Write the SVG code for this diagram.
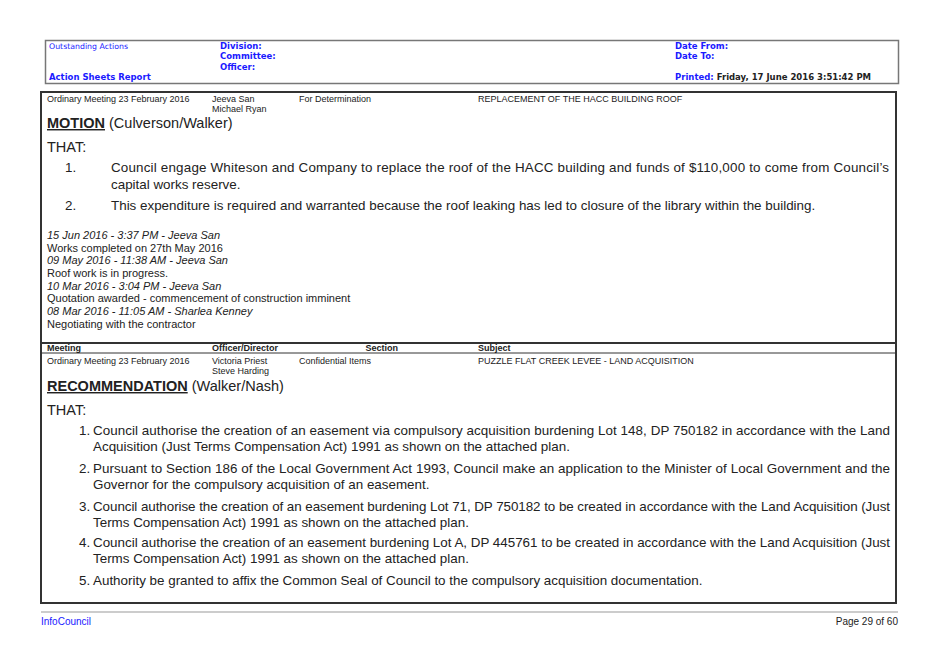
<svg xmlns="http://www.w3.org/2000/svg" width="939" height="664" viewBox="0 0 939 664">
<style>
.h{font-family:"DejaVu Sans",sans-serif;font-size:8.5px;fill:#1a1aff;font-weight:bold}
.s{font-family:"Liberation Sans",Arial,sans-serif;font-size:9px;fill:#222}
.b{font-family:"Liberation Sans",Arial,sans-serif;font-size:13.4px;fill:#222}
.t{font-family:"Liberation Sans",Arial,sans-serif;font-size:14.5px;fill:#222}
.i{font-family:"Liberation Sans",Arial,sans-serif;font-size:11px;fill:#222}
</style>
<rect width="939" height="664" fill="#fff"/>
<g id="header">
<rect x="45.5" y="40.5" width="853" height="43" fill="none" stroke="#777" stroke-width="1.5"/>
<text x="49" y="49" class="h" style="font-weight:normal;font-size:7.8px">Outstanding Actions</text>
<text x="49" y="80" class="h">Action Sheets Report</text>
<text x="220" y="49" class="h">Division:</text>
<text x="220" y="59" class="h">Committee:</text>
<text x="220" y="70" class="h">Officer:</text>
<text x="675" y="49" class="h">Date From:</text>
<text x="675" y="59" class="h">Date To:</text>
<text x="675" y="80" class="h">Printed: <tspan fill="#222">Friday, 17 June 2016   3:51:42 PM</tspan></text>
</g>
<g id="body">
<rect x="41" y="92" width="855" height="511" fill="none" stroke="#333" stroke-width="2"/>
<line x1="41" y1="343" x2="896" y2="343" stroke="#333" stroke-width="2"/>
<line x1="41" y1="353" x2="896" y2="353" stroke="#333" stroke-width="1"/>
</g>
<g id="section1">
<text x="47" y="102" class="s">Ordinary Meeting 23 February 2016</text>
<text x="212" y="102" class="s">Jeeva San</text>
<text x="212" y="112" class="s">Michael Ryan</text>
<text x="299" y="102" class="s">For Determination</text>
<text x="478" y="102" class="s">REPLACEMENT OF THE HACC BUILDING ROOF</text>
<text x="47" y="128" class="t"><tspan font-weight="bold" text-decoration="underline">MOTION</tspan> (Culverson/Walker)</text>
<text x="47" y="152" class="t">THAT:</text>
<text x="65" y="172" class="b">1.</text>
<text x="111" y="172" class="b" textLength="778" lengthAdjust="spacing">Council engage Whiteson and Company to replace the roof of the HACC building and funds of $110,000 to come from Council’s</text>
<text x="111" y="189" class="b">capital works reserve.</text>
<text x="65" y="210" class="b">2.</text>
<text x="111" y="210" class="b">This expenditure is required and warranted because the roof leaking has led to closure of the library within the building.</text>
<text x="47" y="239" class="i" font-style="italic">15 Jun 2016 - 3:37 PM - Jeeva San</text>
<text x="47" y="252" class="i">Works completed on 27th May 2016</text>
<text x="47" y="264" class="i" font-style="italic">09 May 2016 - 11:38 AM - Jeeva San</text>
<text x="47" y="277" class="i">Roof work is in progress.</text>
<text x="47" y="290" class="i" font-style="italic">10 Mar 2016 - 3:04 PM - Jeeva San</text>
<text x="47" y="302" class="i">Quotation awarded - commencement of construction imminent</text>
<text x="47" y="315" class="i" font-style="italic">08 Mar 2016 - 11:05 AM - Sharlea Kenney</text>
<text x="47" y="328" class="i">Negotiating with the contractor</text>
</g>
<g id="section2">
<text x="47" y="351" class="s" font-weight="bold">Meeting</text>
<text x="212" y="351" class="s" font-weight="bold">Officer/Director</text>
<text x="398" y="351" class="s" font-weight="bold" text-anchor="end">Section</text>
<text x="478" y="351" class="s" font-weight="bold">Subject</text>
<text x="47" y="364" class="s">Ordinary Meeting 23 February 2016</text>
<text x="212" y="364" class="s">Victoria Priest</text>
<text x="212" y="374" class="s">Steve Harding</text>
<text x="299" y="364" class="s">Confidential Items</text>
<text x="478" y="364" class="s">PUZZLE FLAT CREEK LEVEE - LAND ACQUISITION</text>
<text x="47" y="391" class="t"><tspan font-weight="bold" text-decoration="underline">RECOMMENDATION</tspan> (Walker/Nash)</text>
<text x="47" y="415" class="t">THAT:</text>
<text x="79" y="435" class="b">1. <tspan x="93" textLength="797" lengthAdjust="spacing">Council authorise the creation of an easement via compulsory acquisition burdening Lot 148, DP 750182 in accordance with the Land</tspan></text>
<text x="93" y="451" class="b">Acquisition (Just Terms Compensation Act) 1991 as shown on the attached plan.</text>
<text x="79" y="473" class="b">2. <tspan x="93" textLength="797" lengthAdjust="spacing">Pursuant to Section 186 of the Local Government Act 1993, Council make an application to the Minister of Local Government and the</tspan></text>
<text x="93" y="489" class="b">Governor for the compulsory acquisition of an easement.</text>
<text x="79" y="511" class="b">3. <tspan x="93" textLength="797" lengthAdjust="spacing">Council authorise the creation of an easement burdening Lot 71, DP 750182 to be created in accordance with the Land Acquisition (Just</tspan></text>
<text x="93" y="527" class="b">Terms Compensation Act) 1991 as shown on the attached plan.</text>
<text x="79" y="547" class="b">4. <tspan x="93" textLength="797" lengthAdjust="spacing">Council authorise the creation of an easement burdening Lot A, DP 445761 to be created in accordance with the Land Acquisition (Just</tspan></text>
<text x="93" y="563" class="b">Terms Compensation Act) 1991 as shown on the attached plan.</text>
<text x="79" y="585" class="b">5. <tspan x="93">Authority be granted to affix the Common Seal of Council to the compulsory acquisition documentation.</tspan></text>
</g>
<g id="footer">
<line x1="41" y1="612" x2="898" y2="612" stroke="#999" stroke-width="1"/>
<text x="41" y="625" class="h" style="font-weight:normal;font-family:'Liberation Sans Narrow','Liberation Sans',sans-serif;font-size:10px">InfoCouncil</text>
<text x="898" y="625" text-anchor="end" style="font-family:'Liberation Sans Narrow','Liberation Sans',sans-serif;font-size:10px;fill:#222">Page 29 of 60</text>
</g>
</svg>
